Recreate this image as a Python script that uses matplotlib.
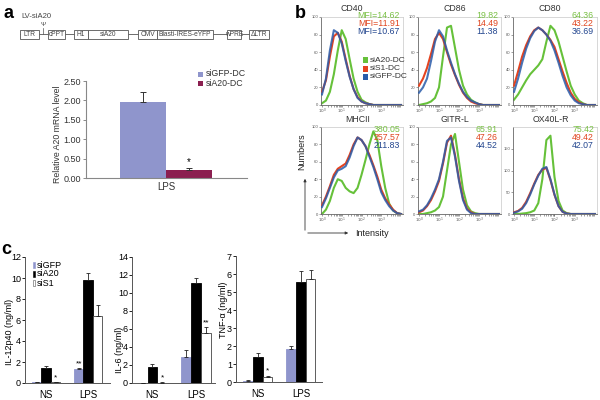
import matplotlib
matplotlib.use('Agg')
import matplotlib.pyplot as plt
from matplotlib.patches import Rectangle
import numpy as np

plt.rcParams['font.family'] = ['Liberation Sans', 'DejaVu Sans']

# ---------------- data ----------------
construct_parts = ['LTR', 'cPPT', 'H1', 'siA20', 'CMV', 'Blasti-IRES-eYFP', 'wPRE', 'ΔLTR']

a_groups = ['siGFP-DC', 'siA20-DC']
a_values = [1.95, 0.20]
a_errors = [0.27, 0.06]

hist_titles = ['CD40', 'CD86', 'CD80', 'MHCII', 'GITR-L', 'OX40L-R']
hist_legend = ['siA20-DC', 'siS1-DC', 'siGFP-DC']
mfi_siA20 = ['MFI=14.62', '19.82', '64.36', '380.05', '65.91', '75.42']
mfi_siS1 = ['MFI=11.91', '14.49', '43.22', '257.57', '47.26', '49.42']
mfi_siGFP = ['MFI=10.67', '11.38', '36.69', '211.83', '44.52', '42.07']

hist_logx = [0.0, 0.2, 0.4, 0.6, 0.8, 1.0, 1.2, 1.4, 1.6, 1.8, 2.0,
             2.2, 2.4, 2.6, 2.8, 3.0, 3.2, 3.4, 3.6, 3.8, 4.0]
cd40_siA20 = [2, 5, 15, 35, 62, 85, 75, 52, 30, 15, 6, 3, 1, 0, 0, 0, 0, 0, 0, 0, 0]
cd40_siS1 = [15, 28, 55, 78, 82, 72, 52, 33, 18, 9, 4, 2, 1, 0, 0, 0, 0, 0, 0, 0, 0]
cd40_siGFP = [12, 30, 62, 85, 82, 70, 50, 32, 18, 8, 4, 2, 1, 0, 0, 0, 0, 0, 0, 0, 0]
cd86_siA20 = [0, 1, 2, 4, 8, 20, 55, 88, 90, 65, 40, 22, 12, 6, 3, 1, 0, 0, 0, 0, 0]
cd86_siS1 = [22, 30, 42, 58, 75, 82, 75, 60, 46, 34, 23, 14, 8, 4, 2, 1, 0, 0, 0, 0, 0]
cd86_siGFP = [14, 20, 30, 50, 72, 85, 78, 62, 48, 35, 24, 15, 9, 5, 3, 1, 0, 0, 0, 0, 0]
cd80_siA20 = [6, 12, 20, 28, 35, 40, 45, 52, 72, 90, 85, 72, 55, 38, 22, 12, 5, 2, 0, 0, 0]
cd80_siS1 = [22, 38, 55, 68, 78, 85, 88, 85, 80, 74, 66, 52, 38, 25, 14, 7, 3, 1, 0, 0, 0]
cd80_siGFP = [15, 30, 48, 64, 76, 84, 88, 85, 80, 73, 62, 48, 33, 20, 11, 5, 2, 1, 0, 0, 0]
mhc_siA20 = [0, 5, 15, 30, 40, 38, 30, 26, 24, 30, 45, 62, 80, 95, 85, 55, 30, 12, 4, 1, 0]
mhc_siS1 = [10, 20, 32, 45, 52, 55, 58, 68, 80, 88, 85, 78, 68, 56, 43, 28, 18, 11, 5, 1, 0]
mhc_siGFP = [8, 18, 30, 42, 50, 52, 55, 65, 78, 88, 85, 78, 66, 54, 40, 25, 16, 9, 4, 1, 0]
gitr_siA20 = [0, 0, 1, 2, 4, 8, 20, 50, 80, 92, 60, 28, 10, 3, 1, 0, 0, 0, 0, 0, 0]
gitr_siS1 = [2, 4, 9, 16, 26, 38, 58, 82, 90, 68, 40, 18, 6, 2, 0, 0, 0, 0, 0, 0, 0]
gitr_siGFP = [3, 5, 10, 18, 28, 40, 60, 84, 88, 66, 38, 16, 5, 1, 0, 0, 0, 0, 0, 0, 0]
ox40_siA20 = [0, 0, 1, 2, 4, 8, 25, 80, 170, 180, 85, 30, 8, 2, 0, 0, 0, 0, 0, 0, 0]
ox40_siS1 = [4, 7, 14, 28, 48, 70, 90, 102, 106, 78, 44, 18, 5, 1, 0, 0, 0, 0, 0, 0, 0]
ox40_siGFP = [3, 6, 12, 25, 45, 68, 88, 104, 108, 80, 45, 18, 5, 1, 0, 0, 0, 0, 0, 0, 0]

c_groups = ['NS', 'LPS']
c_series = ['siGFP', 'siA20', 'siS1']
il12_siGFP = [0.10, 1.30]
il12_siGFP_err = [0.03, 0.10]
il12_siA20 = [1.45, 9.80]
il12_siA20_err = [0.15, 0.70]
il12_siS1 = [0.05, 6.40]
il12_siS1_err = [0.02, 1.00]
il6_siGFP = [0.0, 2.90]
il6_siGFP_err = [0.0, 0.80]
il6_siA20 = [1.80, 11.10]
il6_siA20_err = [0.30, 0.60]
il6_siS1 = [0.05, 5.55]
il6_siS1_err = [0.02, 0.65]
tnf_siGFP = [0.07, 1.83]
tnf_siGFP_err = [0.02, 0.17]
tnf_siA20 = [1.40, 5.57]
tnf_siA20_err = [0.20, 0.61]
tnf_siS1 = [0.27, 5.70]
tnf_siS1_err = [0.08, 0.50]

# ---------------- figure ----------------
W, H = 600, 400
fig = plt.figure(figsize=(6, 4), dpi=100)


def ax_px(l, t, r, b):
    return fig.add_axes([l / W, 1 - b / H, (r - l) / W, (b - t) / H])


def ftext(x, y, s, **kw):
    kw.setdefault('ha', 'center')
    kw.setdefault('va', 'center')
    fig.text(x / W, 1 - y / H, s, **kw)


GREEN, RED, BLUE = '#66c13a', '#e5431f', '#2a5caa'
TGREEN, TRED, TBLUE = '#78c043', '#e0441d', '#23468f'
LAV, MAROON = '#8f95cc', '#8b1f50'

# panel labels
ftext(8, 14, 'a', fontsize=13, fontweight='bold')
ftext(300, 13, 'b', fontsize=13, fontweight='bold')
ftext(6, 250, 'c', fontsize=13, fontweight='bold')

# ---------------- panel a bar chart ----------------
axa = ax_px(86, 81, 247, 178)
axa.bar([-0.5, 0.5], a_values, width=1.0, color=[LAV, MAROON], zorder=2)
axa.errorbar([-0.5, 0.5], a_values, yerr=[[0, 0], a_errors], fmt='none',
             ecolor='#333333', elinewidth=0.7, capsize=2, capthick=0.7, zorder=3)
axa.text(0.5, a_values[1] + a_errors[1] + 0.02, '*', ha='center', va='bottom', fontsize=7)
axa.set_xlim(-1.74, 1.76)
axa.set_ylim(0, 2.5)
axa.set_yticks([0, 0.5, 1.0, 1.5, 2.0, 2.5])
axa.set_yticklabels(['%.2f' % v for v in [0, 0.5, 1.0, 1.5, 2.0, 2.5]], fontsize=6.5, color='#333')
axa.set_xticks([0])
axa.set_xticklabels(['LPS'], fontsize=7, color='#333')
axa.tick_params(axis='x', length=0, pad=3)
axa.tick_params(axis='y', length=2, width=0.6, colors='#777', pad=1.5)
for lab in axa.get_yticklabels():
    lab.set_color('#333')
for s in ['top', 'right']:
    axa.spines[s].set_visible(False)
for s in ['left', 'bottom']:
    axa.spines[s].set_color('#888')
    axa.spines[s].set_linewidth(0.8)
ftext(57, 134, 'Relative A20 mRNA level', fontsize=6.3, rotation=90, color='#333')

# ---------------- panel b histograms ----------------
cols = [(321, 403), (418, 501), (513, 597)]
rows = [(17, 105), (127, 214)]
curves = [
    (cd40_siA20, cd40_siS1, cd40_siGFP),
    (cd86_siA20, cd86_siS1, cd86_siGFP),
    (cd80_siA20, cd80_siS1, cd80_siGFP),
    (mhc_siA20, mhc_siS1, mhc_siGFP),
    (gitr_siA20, gitr_siS1, gitr_siGFP),
    (ox40_siA20, ox40_siS1, ox40_siGFP),
]
title_x = [352, 455, 550, 358, 455, 551]
minor = [k + np.log10(m) for k in range(4) for m in range(2, 10)]
for i in range(6):
    r, c = divmod(i, 3)
    l, rr = cols[c]
    t, b = rows[r]
    ax = ax_px(l, t, rr, b)
    g, rd, bl = curves[i]
    ax.plot(hist_logx, g, color=GREEN, lw=1.5, zorder=2)
    ax.plot(hist_logx, rd, color=RED, lw=1.5, zorder=3)
    ax.plot(hist_logx, bl, color=BLUE, lw=1.5, alpha=0.85, zorder=4)
    ax.set_xlim(-0.05, 4.1)
    if i == 5:
        ax.set_ylim(0, 200)
        ax.set_yticks([0, 50, 100, 150])
    else:
        ax.set_ylim(0, 100)
        ax.set_yticks([0, 20, 40, 60, 80, 100])
    ax.tick_params(axis='y', labelsize=3, length=1.2, width=0.4, pad=0.6, colors='#555')
    ax.set_xticks([0, 1, 2, 3])
    ax.set_xticklabels([r'$10^0$', r'$10^1$', r'$10^2$', r'$10^3$'])
    ax.set_xticks(minor, minor=True)
    ax.tick_params(axis='x', which='both', labelsize=3, length=1.2, width=0.4, pad=0.2, colors='#555')
    for s in ['top', 'right']:
        ax.spines[s].set_color('#c8c8c8')
        ax.spines[s].set_linewidth(0.5)
    for s in ['left', 'bottom']:
        ax.spines[s].set_color('#666')
        ax.spines[s].set_linewidth(0.6)
    ftext(title_x[i], 8.5 if r == 0 else 120, hist_titles[i], fontsize=6.3, color='#333')
    ytop = 15.5 if r == 0 else 129
    ftext(rr - 3, ytop, mfi_siA20[i], fontsize=6.3, color=TGREEN, ha='right')
    ftext(rr - 3, ytop + 8, mfi_siS1[i], fontsize=6.3, color=TRED, ha='right')
    ftext(rr - 3, ytop + 16, mfi_siGFP[i], fontsize=6.3, color=TBLUE, ha='right')

# ---------------- panel c bar charts ----------------
def cbar(axbox, vals, errs, ylim, ystep, xlim, stars):
    ax = ax_px(*axbox)
    w = 0.225
    xg = np.arange(len(c_groups))
    styles = [dict(color=LAV, edgecolor=LAV),
              dict(color='black', edgecolor='black'),
              dict(color='white', edgecolor='#444')]
    for k in range(3):
        ax.bar(xg + (k - 1) * w, vals[k], width=w, lw=0.6, zorder=2, **styles[k])
        ax.errorbar(xg + (k - 1) * w, vals[k], yerr=[[0] * len(vals[k]), errs[k]], fmt='none',
                    ecolor='#222', elinewidth=0.6, capsize=1.5, capthick=0.6, zorder=3)
    for (gi, k, s) in stars:
        ax.text(gi + (k - 1) * w, vals[k][gi] + errs[k][gi] + ylim * 0.01, s,
                ha='center', va='bottom', fontsize=6)
    ax.set_xlim(*xlim)
    ax.set_ylim(0, ylim)
    ax.set_yticks(np.arange(0, ylim + 0.01, ystep))
    ax.set_yticklabels([str(int(v)) for v in np.arange(0, ylim + 0.01, ystep)])
    ax.tick_params(axis='y', labelsize=6.5, length=2, width=0.6, pad=1)
    ax.set_xticks(xg)
    ax.set_xticklabels(c_groups, fontsize=7)
    ax.tick_params(axis='x', length=0, pad=5)
    for s in ['top', 'right']:
        ax.spines[s].set_visible(False)
    for s in ['left', 'bottom']:
        ax.spines[s].set_color('#555')
        ax.spines[s].set_linewidth(0.7)
    return ax

cbar((25, 257, 110, 383), [il12_siGFP, il12_siA20, il12_siS1],
     [il12_siGFP_err, il12_siA20_err, il12_siS1_err], 12, 2, (-0.5, 1.52),
     [(0, 2, '*'), (1, 0, '**')])
cbar((132, 257, 215, 383), [il6_siGFP, il6_siA20, il6_siS1],
     [il6_siGFP_err, il6_siA20_err, il6_siS1_err], 14, 2, (-0.47, 1.44),
     [(0, 2, '*'), (1, 2, '**')])
cbar((236, 256, 322, 382), [tnf_siGFP, tnf_siA20, tnf_siS1],
     [tnf_siGFP_err, tnf_siA20_err, tnf_siS1_err], 7, 1, (-0.51, 1.49),
     [(0, 2, '*')])
ftext(10, 332, 'IL-12p40 (ng/ml)', fontsize=6.5, rotation=90)
ftext(119, 350, 'IL-6 (ng/ml)', fontsize=6.5, rotation=90)
ftext(223, 310, 'TNF-α (ng/ml)', fontsize=6.5, rotation=90)

# ---------------- overlay: construct, legends, arrows ----------------
ov = fig.add_axes([0, 0, 1, 1])
ov.set_xlim(0, W)
ov.set_ylim(H, 0)
ov.axis('off')
ov.patch.set_visible(False)

ov.text(21, 17, 'LV-siA20', fontsize=5.5, color='#444', va='center')
ov.plot([20, 269], [34, 34], color='#555', lw=0.6, zorder=1)
boxes = [(20, 39), (48, 65), (74, 88), (88, 128), (138, 157), (157, 213), (227, 241), (249, 269)]
for (x0, x1), lab in zip(boxes, construct_parts):
    ov.add_patch(Rectangle((x0, 30), x1 - x0, 9, fc='white', ec='#555', lw=0.6, zorder=2))
    ov.text((x0 + x1) / 2, 34.5, lab, fontsize=4.8, color='#444', ha='center', va='center', zorder=3)
ov.plot([43, 43], [28, 34], color='#555', lw=0.5)
ov.text(43, 25, 'Ψ', fontsize=4.5, ha='center', va='center', color='#444')

# panel a legend
for j, (lab, col) in enumerate(zip(a_groups, [LAV, MAROON])):
    y = 74 + 9 * j
    ov.add_patch(Rectangle((198, y - 2.5), 5, 5, fc=col, ec='none'))
    ov.text(206, y, lab, fontsize=6.3, va='center', color='#333')

# panel b legend
for j, (lab, col) in enumerate(zip(hist_legend, [GREEN, RED, BLUE])):
    y = 60 + 8.5 * j
    ov.add_patch(Rectangle((363, y - 3), 5, 6, fc=col, ec='none'))
    ov.text(370, y, lab, fontsize=6, va='center', color='#333')

# Numbers / Intensity arrows
ov.annotate('', xy=(305, 176), xytext=(305, 233),
            arrowprops=dict(arrowstyle='-|>', lw=0.6, color='#333', mutation_scale=4))
ov.annotate('', xy=(351, 233), xytext=(305, 233),
            arrowprops=dict(arrowstyle='-|>', lw=0.6, color='#333', mutation_scale=4))
ov.text(302, 152, 'Numbers', fontsize=6.5, rotation=90, ha='center', va='center', color='#222')
ov.text(372, 233, 'Intensity', fontsize=6.5, ha='center', va='center', color='#222')

# panel c legend
for j, (lab, fc, ec) in enumerate(zip(c_series, [LAV, 'black', 'white'], [LAV, 'black', '#555'])):
    y = 265 + 9 * j
    ov.add_patch(Rectangle((33, y - 3), 2.2, 6, fc=fc, ec=ec, lw=0.4))
    ov.text(37, y, lab, fontsize=6.5, va='center')

fig.savefig('out.png', dpi=100)
